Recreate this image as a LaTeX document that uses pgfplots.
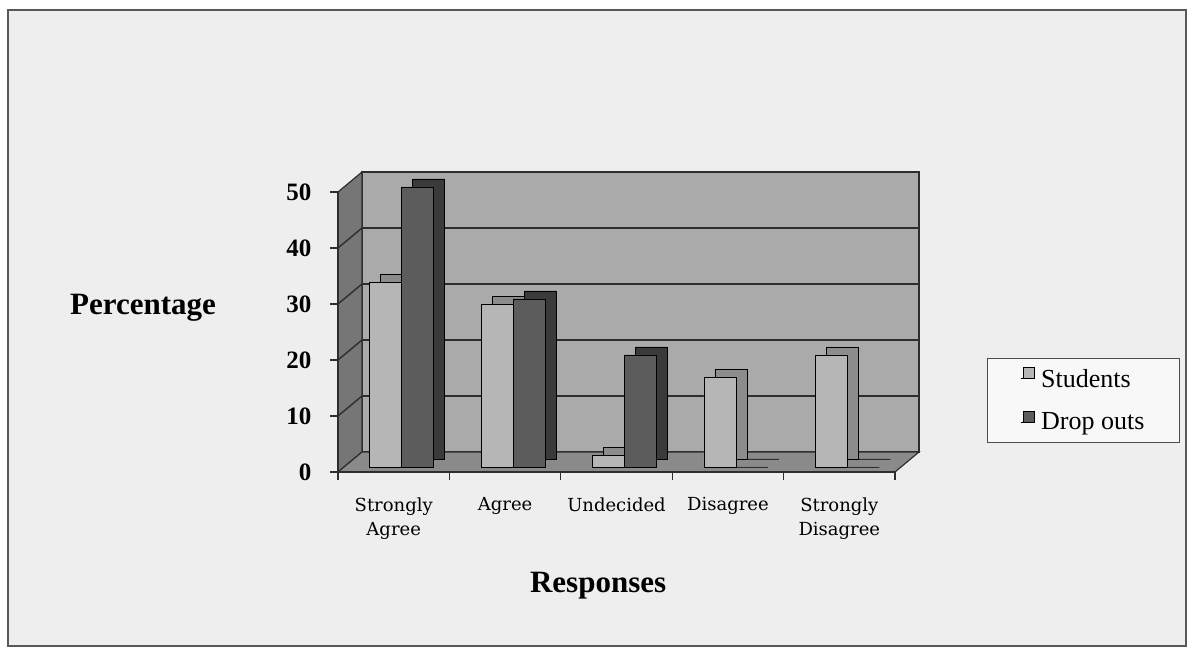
\documentclass[border=0pt]{standalone}
\usepackage{fontspec}
\setmainfont{Liberation Serif}
\newfontfamily\catfont{DejaVu Serif}
\usepackage{pgfplots}
\pgfplotsset{compat=1.18}
\definecolor{bgc}{RGB}{238,238,238}
\definecolor{wallc}{RGB}{170,170,170}
\definecolor{sidewall}{RGB}{118,118,118}
\definecolor{floorc}{RGB}{138,138,138}
\definecolor{stuf}{RGB}{182,182,182}
\definecolor{stus}{RGB}{140,140,140}
\definecolor{dropf}{RGB}{92,92,92}
\definecolor{drops}{RGB}{58,58,58}
\definecolor{gridc}{RGB}{45,45,45}
\begin{document}
\begin{tikzpicture}[x=1bp,y=1bp]
\path[use as bounding box] (0,0) rectangle (1194,647);
\fill[white] (0,0) rectangle (1194,647);
\filldraw[fill=bgc, draw=gray!70!black, line width=1.2bp] (8,1) rectangle (1186,637);
% back wall
\begin{axis}[at={(362bp,195bp)}, anchor=south west, scale only axis,
  width=557bp, height=280bp, xmin=-0.5, xmax=4.5, ymin=0, ymax=50,
  axis background/.style={fill=wallc},
  axis line style={draw=gridc, line width=1.2bp},
  xtick=\empty, ytick={10,20,30,40}, yticklabels={}, major tick length=0pt,
  ymajorgrids, grid style={draw=gridc, line width=1.4bp},
  clip=false]
  \filldraw[fill=sidewall, draw=gridc, line width=1.2bp] (axis cs:-0.5,0) -- (axis cs:-0.5,50) -- ++(-24bp,-20bp) -- ++(0bp,-280bp) -- cycle;
  \filldraw[fill=floorc, draw=gridc, line width=1.2bp] (axis cs:-0.5,0) -- (axis cs:4.5,0) -- ++(-24bp,-20bp) -- ++(-557bp,0bp) -- cycle;
  \draw[gridc, line width=1.4bp] (axis cs:-0.5,10) -- ++(-24bp,-20bp);
  \draw[gridc, line width=1.4bp] (axis cs:-0.5,20) -- ++(-24bp,-20bp);
  \draw[gridc, line width=1.4bp] (axis cs:-0.5,30) -- ++(-24bp,-20bp);
  \draw[gridc, line width=1.4bp] (axis cs:-0.5,40) -- ++(-24bp,-20bp);
\end{axis}
% front
\begin{axis}[at={(338bp,175bp)}, anchor=south west, scale only axis,
  width=557bp, height=280bp, xmin=-0.5, xmax=4.5, ymin=0, ymax=50,
  axis y line*=left, axis x line*=bottom,
  axis line style={draw=gridc, line width=1.2bp, -},
  tick align=outside, major tick length=8bp,
  tick style={draw=gridc, line width=1.2bp},
  ytick={0,10,20,30,40,50},
  yticklabel style={font=\bfseries\fontsize{25bp}{30bp}\selectfont, xshift=-15bp},
  /pgf/number format/assume math mode=true,
  xtick={-0.5,0.5,1.5,2.5,3.5,4.5}, xticklabels={},
  extra x ticks={0,1,2,3,4},
  extra x tick labels={{Strongly\\Agree},Agree,Undecided,Disagree,{Strongly\\Disagree}},
  extra x tick style={major tick length=0pt},
  xticklabel style={font=\catfont\fontsize{18bp}{24bp}\selectfont, align=center, yshift=-22bp},
  xlabel={Responses},
  xlabel style={font=\bfseries\fontsize{31bp}{34bp}\selectfont, at={(axis description cs:0.467,-0.4286)}, anchor=base},
  ylabel={Percentage},
  ylabel style={font=\bfseries\fontsize{31bp}{34bp}\selectfont, rotate=-90, at={(axis description cs:-0.3501,0.5607)}, anchor=base},
  legend image code/.code={\path (-3bp,0bp) -- (11bp,0bp); \draw[#1] (0bp,0bp) rectangle (11bp,11bp);},
  legend style={at={(1.1652,0.4071)}, anchor=north west, draw=gray!60!black, fill=bgc!40!white,
    font=\fontsize{26bp}{31bp}\selectfont, inner xsep=33bp, inner ysep=9bp, row sep=20bp,
    column sep=4bp, cells={anchor=west}},
  legend cell align=left,
  clip=false]
  \addplot[ybar, bar width=32bp, bar shift=-8bp, fill=stus, draw=black, line width=0.6bp, xshift=11bp, yshift=13bp, forget plot]
    coordinates {(0,33) (1,29) (2,2) (3,16) (4,20)};
  \addplot[ybar, bar width=32bp, bar shift=-8bp, fill=stuf, draw=black, line width=0.6bp, yshift=5bp, forget plot]
    coordinates {(0,33) (1,29) (2,2) (3,16) (4,20)};
  \addplot[ybar, bar width=32bp, bar shift=24bp, fill=drops, draw=black, line width=0.6bp, xshift=11bp, yshift=13bp, forget plot]
    coordinates {(0,50) (1,30) (2,20) (3,0) (4,0)};
  \addplot[ybar, bar width=32bp, bar shift=24bp, fill=dropf, draw=black, line width=0.6bp, yshift=5bp, forget plot]
    coordinates {(0,50) (1,30) (2,20) (3,0) (4,0)};
  \addlegendimage{fill=stuf, draw=black, line width=1bp}
  \addlegendentry{Students}
  \addlegendimage{fill=dropf, draw=black, line width=1bp}
  \addlegendentry{Drop outs}
\end{axis}
\end{tikzpicture}
\end{document}
